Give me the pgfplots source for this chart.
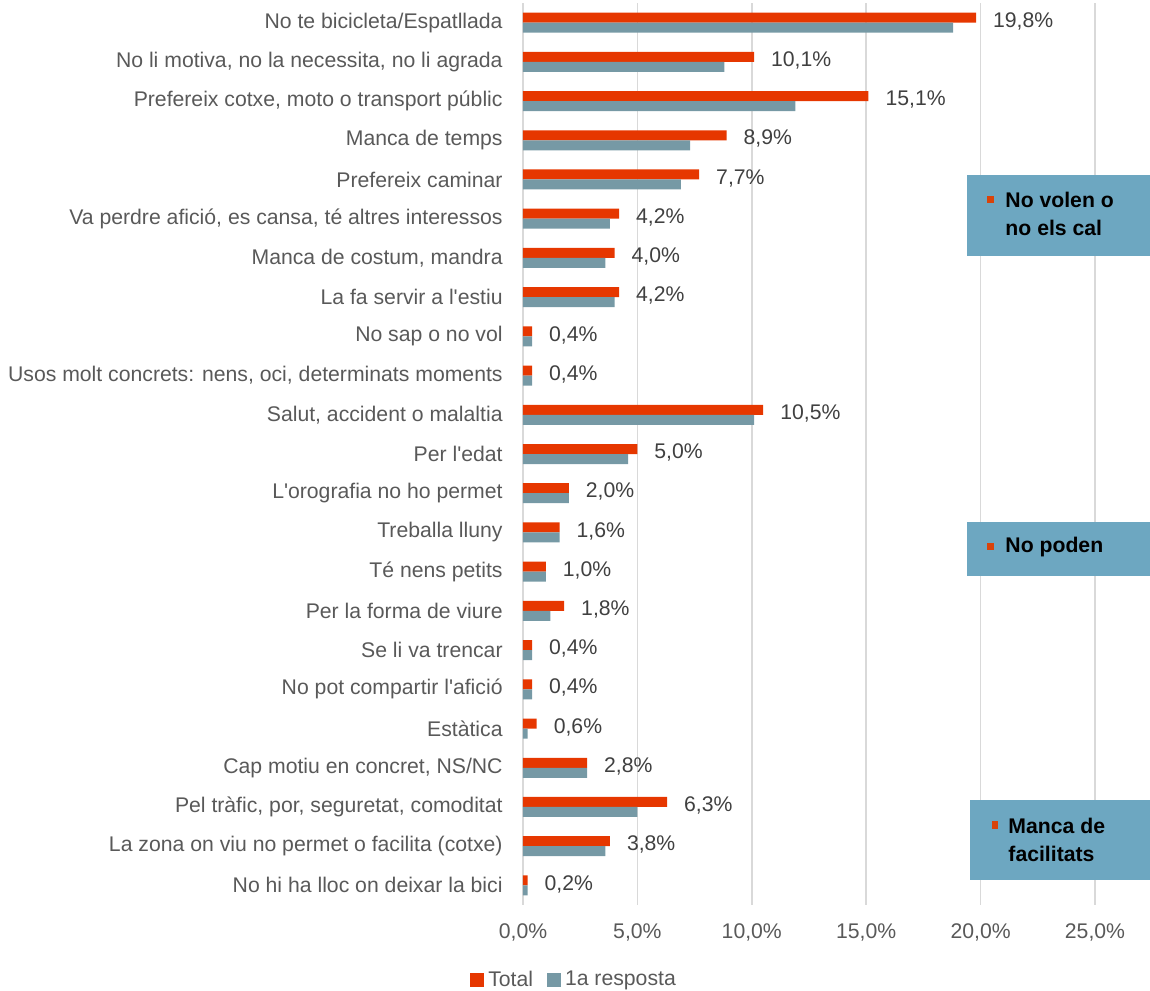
\documentclass[border=0pt]{standalone}
\usepackage{fontspec}
\setmainfont{Liberation Sans}
\usepackage{pgfplots}
\pgfplotsset{compat=1.18}
\usepackage{pgfplotstable}
\definecolor{cRed}{HTML}{E63700}
\definecolor{cGrey}{HTML}{7699A5}
\definecolor{cBox}{HTML}{6DA7C1}
\definecolor{cGrid}{HTML}{D9D9D9}
\definecolor{cLab}{HTML}{595959}
\definecolor{cVal}{HTML}{404040}
\definecolor{cMark}{HTML}{D9430A}
\newcommand{\ap}{\textquotesingle}

\pgfplotstableread{
idx total first
0 19.8 18.8
1 10.1 8.8
2 15.1 11.9
3 8.9 7.3
4 7.7 6.9
5 4.2 3.8
6 4.0 3.6
7 4.2 4.0
8 0.4 0.4
9 0.4 0.4
10 10.5 10.1
11 5.0 4.6
12 2.0 2.0
13 1.6 1.6
14 1.0 1.0
15 1.8 1.2
16 0.4 0.4
17 0.4 0.4
18 0.6 0.2
19 2.8 2.8
20 6.3 5.0
21 3.8 3.6
22 0.2 0.2
}\datatable

\begin{document}
\begin{tikzpicture}
\begin{axis}[
  scale only axis,
  width=286pt, height=451pt,
  xmin=0, xmax=25,
  ymin=-0.5, ymax=22.5,
  y dir=reverse,
  xbar, bar width=5pt,
  xtick={0,5,10,15,20,25},
  ytick={0,...,22},
  yticklabels={
    {No te bicicleta/Espatllada},
    {No li motiva, no la necessita, no li agrada},
    {Prefereix cotxe, moto o transport públic},
    {Manca de temps},
    {Prefereix caminar},
    {Va perdre afició, es cansa, té altres interessos},
    {Manca de costum, mandra},
    {La fa servir a l\ap estiu},
    {No sap o no vol},
    {Usos molt concrets: nens, oci, determinats moments},
    {Salut, accident o malaltia},
    {Per l\ap edat},
    {L\ap orografia no ho permet},
    {Treballa lluny},
    {Té nens petits},
    {Per la forma de viure},
    {Se li va trencar},
    {No pot compartir l\ap afició},
    {Estàtica},
    {Cap motiu en concret, NS/NC},
    {Pel tràfic, por, seguretat, comoditat},
    {La zona on viu no permet o facilita (cotxe)},
    {No hi ha lloc on deixar la bici}},
  xticklabel={\pgfmathprintnumber[fixed,fixed zerofill,precision=1,use comma]{\tick}\%},
  /pgf/number format/assume math mode=true,
  xmajorgrids,
  major grid style={draw=cGrid, line width=0.8pt},
  axis line style={draw=none},
  major tick length=0pt,
  tick style={draw=none},
  ticklabel style={font=\fontsize{10.6}{12.6}\selectfont, text=cLab},
  yticklabel style={inner sep=0pt, xshift=-10pt},
  xticklabel style={yshift=-6pt},
  clip=false,
  legend style={at={(axis description cs:0.091,-0.083)}, anchor=center,
    draw=none, fill=none, legend columns=2, inner sep=0pt,
    font=\fontsize{10.6}{12.6}\selectfont, text=cLab,
    /tikz/every even column/.append style={column sep=5pt}},
  legend image code/.code={\fill (0pt,-3.5pt) rectangle (7pt,3.5pt);},
]
\addplot[fill=cRed, draw=none, bar shift=2.5pt,
  nodes near coords={\pgfmathprintnumber[fixed,fixed zerofill,precision=1,use comma]{\pgfplotspointmeta}\%},
  nodes near coords style={anchor=west, xshift=5pt, yshift=-1.8pt, text=cVal, font=\fontsize{10.6}{12.6}\selectfont},
  point meta=explicit] table[x=total, y=idx, meta=total] {\datatable};
\addlegendentry{Total}
\addplot[fill=cGrey, draw=none, bar shift=-2.5pt] table[x=first, y=idx] {\datatable};
\addlegendentry{1a resposta}

% annotation boxes
\fill[cBox] (axis cs:19.41,3.89) rectangle (axis cs:27.4,5.96);
\fill[cMark] (axis cs:20.30,4.42) rectangle (axis cs:20.60,4.60);
\node[anchor=west, align=left, inner sep=0pt, font=\bfseries\fontsize{10.6}{14}\selectfont]
  at (axis cs:21.07,4.89) {No volen o\\no els cal};

\fill[cBox] (axis cs:19.41,12.74) rectangle (axis cs:27.4,14.12);
\fill[cMark] (axis cs:20.30,13.26) rectangle (axis cs:20.60,13.44);
\node[anchor=west, align=left, inner sep=0pt, font=\bfseries\fontsize{10.6}{14}\selectfont]
  at (axis cs:21.07,13.36) {No poden};

\fill[cBox] (axis cs:19.54,19.83) rectangle (axis cs:27.4,21.87);
\fill[cMark] (axis cs:20.48,20.37) rectangle (axis cs:20.78,20.55);
\node[anchor=west, align=left, inner sep=0pt, font=\bfseries\fontsize{10.6}{14}\selectfont]
  at (axis cs:21.2,20.83) {Manca de\\facilitats};
\end{axis}
\pgfresetboundingbox
\path (-261.5pt,-42.5pt) rectangle (313.5pt,452.5pt);
\end{tikzpicture}
\end{document}
